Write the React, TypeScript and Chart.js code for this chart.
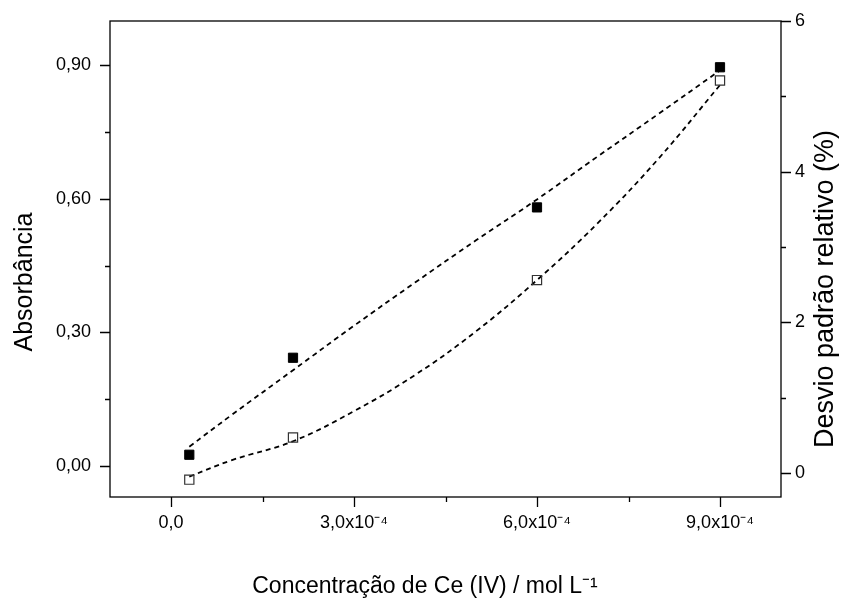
import React, { useEffect, useRef } from 'react';
import { Chart, registerables } from 'chart.js';
Chart.register(...registerables);

// Measured data points
const concentration = [3e-5, 2e-4, 6e-4, 9e-4];
const absorbance = [0.025, 0.243, 0.581, 0.896];
const rsd = [-0.09, 0.47, 2.56, 5.21];

// Dashed fit curves
const fitX = [3e-5, 1e-4, 2e-4, 3e-4, 4e-4, 5e-4, 6e-4, 7e-4, 8e-4, 9e-4];
const absorbanceFit = [0.043, 0.115, 0.215, 0.315, 0.412, 0.507, 0.599, 0.696, 0.792, 0.889];
const rsdFit = [-0.05, 0.17, 0.42, 0.82, 1.3, 1.88, 2.56, 3.32, 4.18, 5.15];

// Axes
const xTicks = [0, 3e-4, 6e-4, 9e-4];
const xTickLabels = ['0,0', '3,0x10⁻⁴', '6,0x10⁻⁴', '9,0x10⁻⁴'];
const xMinor = [1.5e-4, 4.5e-4, 7.5e-4];
const yTicks = [0, 0.3, 0.6, 0.9];
const yTickLabels = ['0,00', '0,30', '0,60', '0,90'];
const yMinor = [0.15, 0.45, 0.75];
const y1Ticks = [0, 2, 4, 6];
const y1TickLabels = ['0', '2', '4', '6'];
const y1Minor = [1, 3, 5];

const xTitle = 'Concentração de Ce (IV) / mol L⁻¹';
const yTitle = 'Absorbância';
const y1Title = 'Desvio padrão relativo (%)';

const FONT = '"Liberation Sans", Arial, sans-serif';

const framePlugin = {
  id: 'frameTicks',
  afterDraw(chart: any) {
    const { ctx, chartArea: a, scales } = chart;
    ctx.save();
    ctx.strokeStyle = '#000';
    ctx.lineWidth = 1.3;
    ctx.strokeRect(a.left, a.top, a.right - a.left, a.bottom - a.top);
    const major = 10;
    const minor = 5;
    ctx.beginPath();
    const xt = (vals: number[], len: number) =>
      vals.forEach((v) => {
        const p = Math.round(scales.x.getPixelForValue(v)) + 0.5;
        ctx.moveTo(p, a.bottom);
        ctx.lineTo(p, a.bottom + len);
      });
    const yt = (vals: number[], len: number) =>
      vals.forEach((v) => {
        const p = Math.round(scales.y.getPixelForValue(v)) + 0.5;
        ctx.moveTo(a.left, p);
        ctx.lineTo(a.left - len, p);
      });
    const y1t = (vals: number[], len: number) =>
      vals.forEach((v) => {
        const p = Math.round(scales.y1.getPixelForValue(v)) + 0.5;
        ctx.moveTo(a.right, p);
        ctx.lineTo(a.right + len, p);
      });
    xt(xTicks, major);
    xt(xMinor, minor);
    yt(yTicks, major);
    yt(yMinor, minor);
    y1t(y1Ticks, major);
    y1t(y1Minor, minor);
    ctx.stroke();

    ctx.fillStyle = '#000';
    ctx.textAlign = 'center';
    ctx.textBaseline = 'middle';
    // bottom title
    ctx.font = `23px ${FONT}`;
    ctx.fillText(xTitle, 425, 587);
    // left title
    ctx.save();
    ctx.translate(25, 282);
    ctx.rotate(-Math.PI / 2);
    ctx.font = `25px ${FONT}`;
    ctx.fillText(yTitle, 0, 0);
    ctx.restore();
    // right title
    ctx.save();
    ctx.translate(826, 289);
    ctx.rotate(-Math.PI / 2);
    ctx.font = `27px ${FONT}`;
    ctx.fillText(y1Title, 0, 0);
    ctx.restore();
    ctx.restore();
  },
};

export default function App() {
  const ref = useRef<HTMLCanvasElement>(null);
  useEffect(() => {
    document.body.style.margin = '0';
    const canvas = ref.current!;
    const chart = new Chart(canvas, {
      type: 'scatter',
      data: {
        datasets: [
          {
            label: 'Absorbância',
            data: concentration.map((x, i) => ({ x, y: absorbance[i] })),
            yAxisID: 'y',
            pointStyle: 'rect',
            pointRadius: 6.5,
            backgroundColor: '#000',
            borderColor: '#000',
            borderWidth: 1,
            showLine: false,
          },
          {
            label: 'DPR',
            data: concentration.map((x, i) => ({ x, y: rsd[i] })),
            yAxisID: 'y1',
            pointStyle: 'rect',
            pointRadius: 6.5,
            backgroundColor: 'rgba(0,0,0,0)',
            borderColor: '#333',
            borderWidth: 1.2,
            showLine: false,
          },
          {
            label: 'fit A',
            data: fitX.map((x, i) => ({ x, y: absorbanceFit[i] })),
            yAxisID: 'y',
            showLine: true,
            pointRadius: 0,
            borderColor: '#000',
            borderWidth: 1.8,
            borderDash: [5, 4],
            tension: 0.4,
          },
          {
            label: 'fit DPR',
            data: fitX.map((x, i) => ({ x, y: rsdFit[i] })),
            yAxisID: 'y1',
            showLine: true,
            pointRadius: 0,
            borderColor: '#000',
            borderWidth: 1.8,
            borderDash: [5, 4],
            tension: 0.4,
          },
        ],
      },
      options: {
        animation: false,
        responsive: false,
        maintainAspectRatio: false,
        layout: { padding: { top: 21, left: 0, right: 0, bottom: 0 } },
        plugins: { legend: { display: false }, tooltip: { enabled: false } },
        scales: {
          x: {
            type: 'linear',
            min: -1e-4,
            max: 1e-3,
            afterBuildTicks: (s: any) => {
              s.ticks = xTicks.map((v) => ({ value: v }));
            },
            afterFit: (s: any) => {
              s.height = 109;
            },
            grid: { display: true, drawOnChartArea: false, color: 'rgba(0,0,0,0)', tickLength: 10 },
            border: { display: false },
            ticks: {
              maxRotation: 0,
              autoSkip: false,
              padding: 5,
              color: '#000',
              font: { family: FONT, size: 18 },
              callback: (v: any) => xTickLabels[xTicks.findIndex((t) => Math.abs(t - v) < 1e-9)] ?? '',
            },
          },
          y: {
            type: 'linear',
            position: 'left',
            min: -0.07,
            max: 1.0,
            afterBuildTicks: (s: any) => {
              s.ticks = yTicks.map((v) => ({ value: v }));
            },
            afterFit: (s: any) => {
              s.width = 110;
            },
            grid: { display: true, drawOnChartArea: false, color: 'rgba(0,0,0,0)', tickLength: 10 },
            border: { display: false },
            ticks: {
              padding: 9,
              color: '#000',
              font: { family: FONT, size: 18 },
              callback: (v: any) => yTickLabels[yTicks.findIndex((t) => Math.abs(t - v) < 1e-9)] ?? '',
            },
          },
          y1: {
            type: 'linear',
            position: 'right',
            min: -0.32,
            max: 6.0,
            afterBuildTicks: (s: any) => {
              s.ticks = y1Ticks.map((v) => ({ value: v }));
            },
            afterFit: (s: any) => {
              s.width = 63;
            },
            grid: { display: true, drawOnChartArea: false, color: 'rgba(0,0,0,0)', tickLength: 10 },
            border: { display: false },
            ticks: {
              padding: 4,
              color: '#000',
              font: { family: FONT, size: 18 },
              callback: (v: any) => y1TickLabels[y1Ticks.findIndex((t) => Math.abs(t - v) < 1e-9)] ?? '',
            },
          },
        },
      },
      plugins: [framePlugin],
    });
    return () => chart.destroy();
  }, []);
  return (
    <div style={{ width: 844, height: 606 }}>
      <canvas ref={ref} width={844} height={606} style={{ display: 'block' }} />
    </div>
  );
}
